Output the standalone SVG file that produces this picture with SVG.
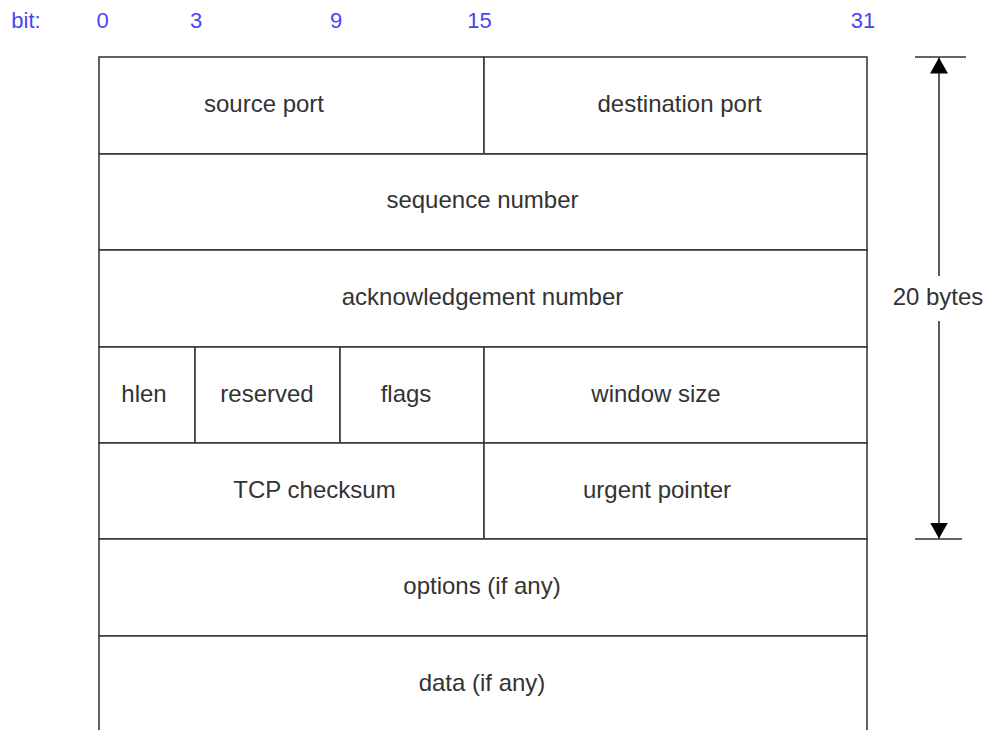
<svg xmlns="http://www.w3.org/2000/svg" width="987" height="730" viewBox="0 0 987 730">
  <style>
    .cell { fill: #ffffff; stroke: #3a3a3a; stroke-width: 1.6; }
    .lbl { font-family: "Liberation Sans", Arial, sans-serif; font-size: 24px; fill: #333333; text-anchor: middle; }
    .bit { font-family: "Liberation Sans", Arial, sans-serif; font-size: 22px; fill: #4646f5; text-anchor: middle; }
    .dim { stroke: #333333; stroke-width: 1.6; fill: none; }
  </style>
  <defs>
    <marker id="arrowhead" viewBox="0 0 16 18" refX="16" refY="9" markerWidth="16" markerHeight="18" markerUnits="userSpaceOnUse" orient="auto">
      <path d="M0,0 L16,9 L0,18 Z" fill="#000000"/>
    </marker>
  </defs>
  <rect width="987" height="730" fill="#ffffff"/>

  <!-- bit positions -->
  <g id="bit-scale">
    <text class="bit" x="26" y="28">bit:</text>
    <text class="bit" x="102.5" y="28">0</text>
    <text class="bit" x="196" y="28">3</text>
    <text class="bit" x="336" y="28">9</text>
    <text class="bit" x="479.5" y="28">15</text>
    <text class="bit" x="863" y="28">31</text>
  </g>

  <!-- header fields -->
  <g id="source-port">
    <rect class="cell" x="99" y="57" width="385" height="97"/>
    <text class="lbl" x="264" y="112">source port</text>
  </g>
  <g id="destination-port">
    <rect class="cell" x="484" y="57" width="383" height="97"/>
    <text class="lbl" x="679.5" y="112">destination port</text>
  </g>
  <g id="sequence-number">
    <rect class="cell" x="99" y="154" width="768" height="96"/>
    <text class="lbl" x="482.5" y="208">sequence number</text>
  </g>
  <g id="acknowledgement-number">
    <rect class="cell" x="99" y="250" width="768" height="97"/>
    <text class="lbl" x="482.5" y="305">acknowledgement number</text>
  </g>
  <g id="hlen">
    <rect class="cell" x="99" y="347" width="96" height="96"/>
    <text class="lbl" x="144" y="402">hlen</text>
  </g>
  <g id="reserved">
    <rect class="cell" x="195" y="347" width="145" height="96"/>
    <text class="lbl" x="267" y="402">reserved</text>
  </g>
  <g id="flags">
    <rect class="cell" x="340" y="347" width="144" height="96"/>
    <text class="lbl" x="406" y="402">flags</text>
  </g>
  <g id="window-size">
    <rect class="cell" x="484" y="347" width="383" height="96"/>
    <text class="lbl" x="656" y="402">window size</text>
  </g>
  <g id="tcp-checksum">
    <rect class="cell" x="99" y="443" width="385" height="96"/>
    <text class="lbl" x="314.5" y="498">TCP checksum</text>
  </g>
  <g id="urgent-pointer">
    <rect class="cell" x="484" y="443" width="383" height="96"/>
    <text class="lbl" x="657" y="498">urgent pointer</text>
  </g>
  <g id="options">
    <rect class="cell" x="99" y="539" width="768" height="97"/>
    <text class="lbl" x="482" y="594">options (if any)</text>
  </g>
  <g id="data">
    <path class="cell" d="M99,731 L99,636 L867,636 L867,731"/>
    <text class="lbl" x="482" y="691">data (if any)</text>
  </g>

  <!-- header length dimension -->
  <g id="connectors">
    <line class="dim" x1="915" y1="57" x2="966" y2="57"/>
    <line class="dim" x1="915" y1="539" x2="962" y2="539"/>
    <line class="dim" x1="939" y1="276" x2="939" y2="57.5" marker-end="url(#arrowhead)"/>
    <line class="dim" x1="939" y1="321" x2="939" y2="538.5" marker-end="url(#arrowhead)"/>
  </g>
  <g id="size-label">
    <text class="lbl" x="938" y="305">20 bytes</text>
  </g>
</svg>
